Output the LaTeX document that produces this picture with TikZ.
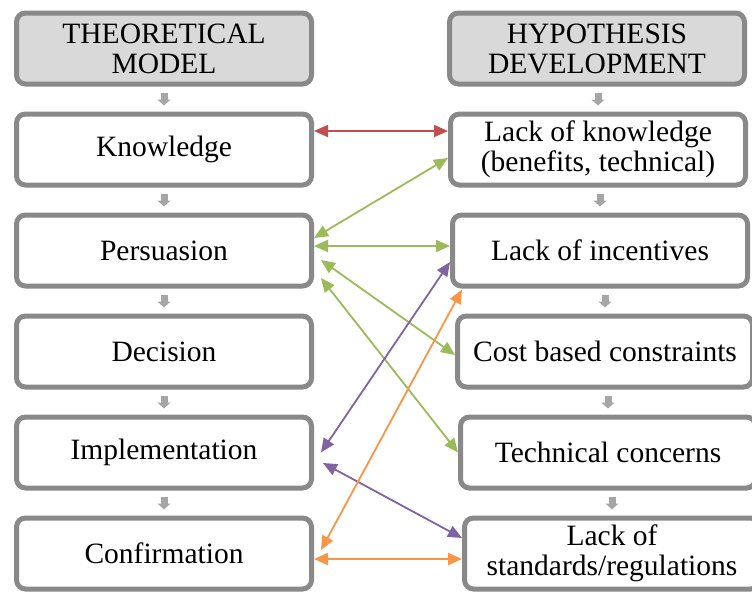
\documentclass[tikz,border=0pt]{standalone}
\usepackage{fontspec}
\setmainfont{Liberation Serif}
\usetikzlibrary{arrows.meta}
\definecolor{boxgray}{HTML}{898989}
\definecolor{headfill}{HTML}{D9D9D9}
\definecolor{flowgray}{HTML}{A6A6A6}
\definecolor{linkred}{HTML}{C0504D}
\definecolor{linkgreen}{HTML}{9BBB59}
\definecolor{linkpurple}{HTML}{8064A2}
\definecolor{linkorange}{HTML}{F79646}

\begin{document}
\begin{tikzpicture}[x=1pt,y=-1pt,
    stage/.style={draw=boxgray,line width=5pt,rounded corners=9pt,fill=white,
      minimum width=295pt,minimum height=71pt,align=center,inner sep=0pt,
      font=\fontsize{29.5}{30}\selectfont},
    heading/.style={stage,fill=headfill},
    flow/.style={draw=flowgray,line width=7pt,-{Triangle[length=6pt,width=13pt]},
      shorten <=6pt,shorten >=6pt},
    link/.style={line width=1.8pt,
      {Triangle[length=14pt,width=12pt]}-{Triangle[length=14pt,width=12pt]}}]

      \useasboundingbox (0,0) rectangle (752,592);

      % model column
      \node[heading] (modelhd) at (164,48.5) {THEORETICAL\\MODEL};
      \node[stage] (know) at (164,149.5) {Knowledge};
      \node[stage] (pers) at (164,250.5) {Persuasion};
      \node[stage] (deci) at (164,351.5) {Decision};
      \node[stage] (impl) at (164,452.5) {Implementation};
      \node[stage] (conf) at (164,553.5) {Confirmation};

      % hypothesis column
      \node[heading] (hypohd) at (597,48.5) {HYPOTHESIS\\DEVELOPMENT};
      \node[stage] (lackknow) at (598,149.5) {Lack of knowledge\\(benefits, technical)};
      \node[stage] (lackinc) at (600,250.5) {Lack of incentives};
      \node[stage] (cost) at (605,351.5) {Cost based constraints};
      \node[stage] (tech) at (608,452.5) {Technical concerns};
      \node[stage] (lackstd) at (612,553.5) {Lack of\\standards/regulations};

      \foreach \a/\b in {modelhd/know,know/pers,pers/deci,deci/impl,impl/conf,
          hypohd/lackknow,lackknow/lackinc,lackinc/cost,cost/tech,tech/lackstd}
        \draw[flow] (\a.south -| \b.north) -- (\b.north);

      \draw[link,linkred] ([yshift=18.5pt]know.east) -- ([yshift=18.5pt]lackknow.west);

      \draw[link,linkgreen] ([yshift=12.5pt]pers.east) -- ([yshift=-8.5pt]lackknow.west);
      \draw[link,linkgreen] ([yshift=4.5pt]pers.east) -- ([yshift=4.5pt]lackinc.west);
      \draw[link,linkgreen] ([xshift=7pt,yshift=-9.5pt]pers.east) -- ([yshift=-3.5pt]cost.west);
      \draw[link,linkgreen] ([xshift=7pt,yshift=-27.5pt]pers.east) -- (tech.west);

      \draw[link,linkpurple] ([xshift=7pt]impl.east) -- ([yshift=-11.5pt]lackinc.west);
      \draw[link,linkpurple] ([xshift=9pt,yshift=-10.5pt]impl.east) -- ([yshift=15.5pt]lackstd.west);

      \draw[link,linkorange] ([xshift=7pt,yshift=3.5pt]conf.east) -- ([xshift=12pt,yshift=-1pt]lackinc.south west);
      \draw[link,linkorange] ([yshift=-5.5pt]conf.east) -- ([yshift=-5.5pt]lackstd.west);

    \end{tikzpicture}
\end{document}
